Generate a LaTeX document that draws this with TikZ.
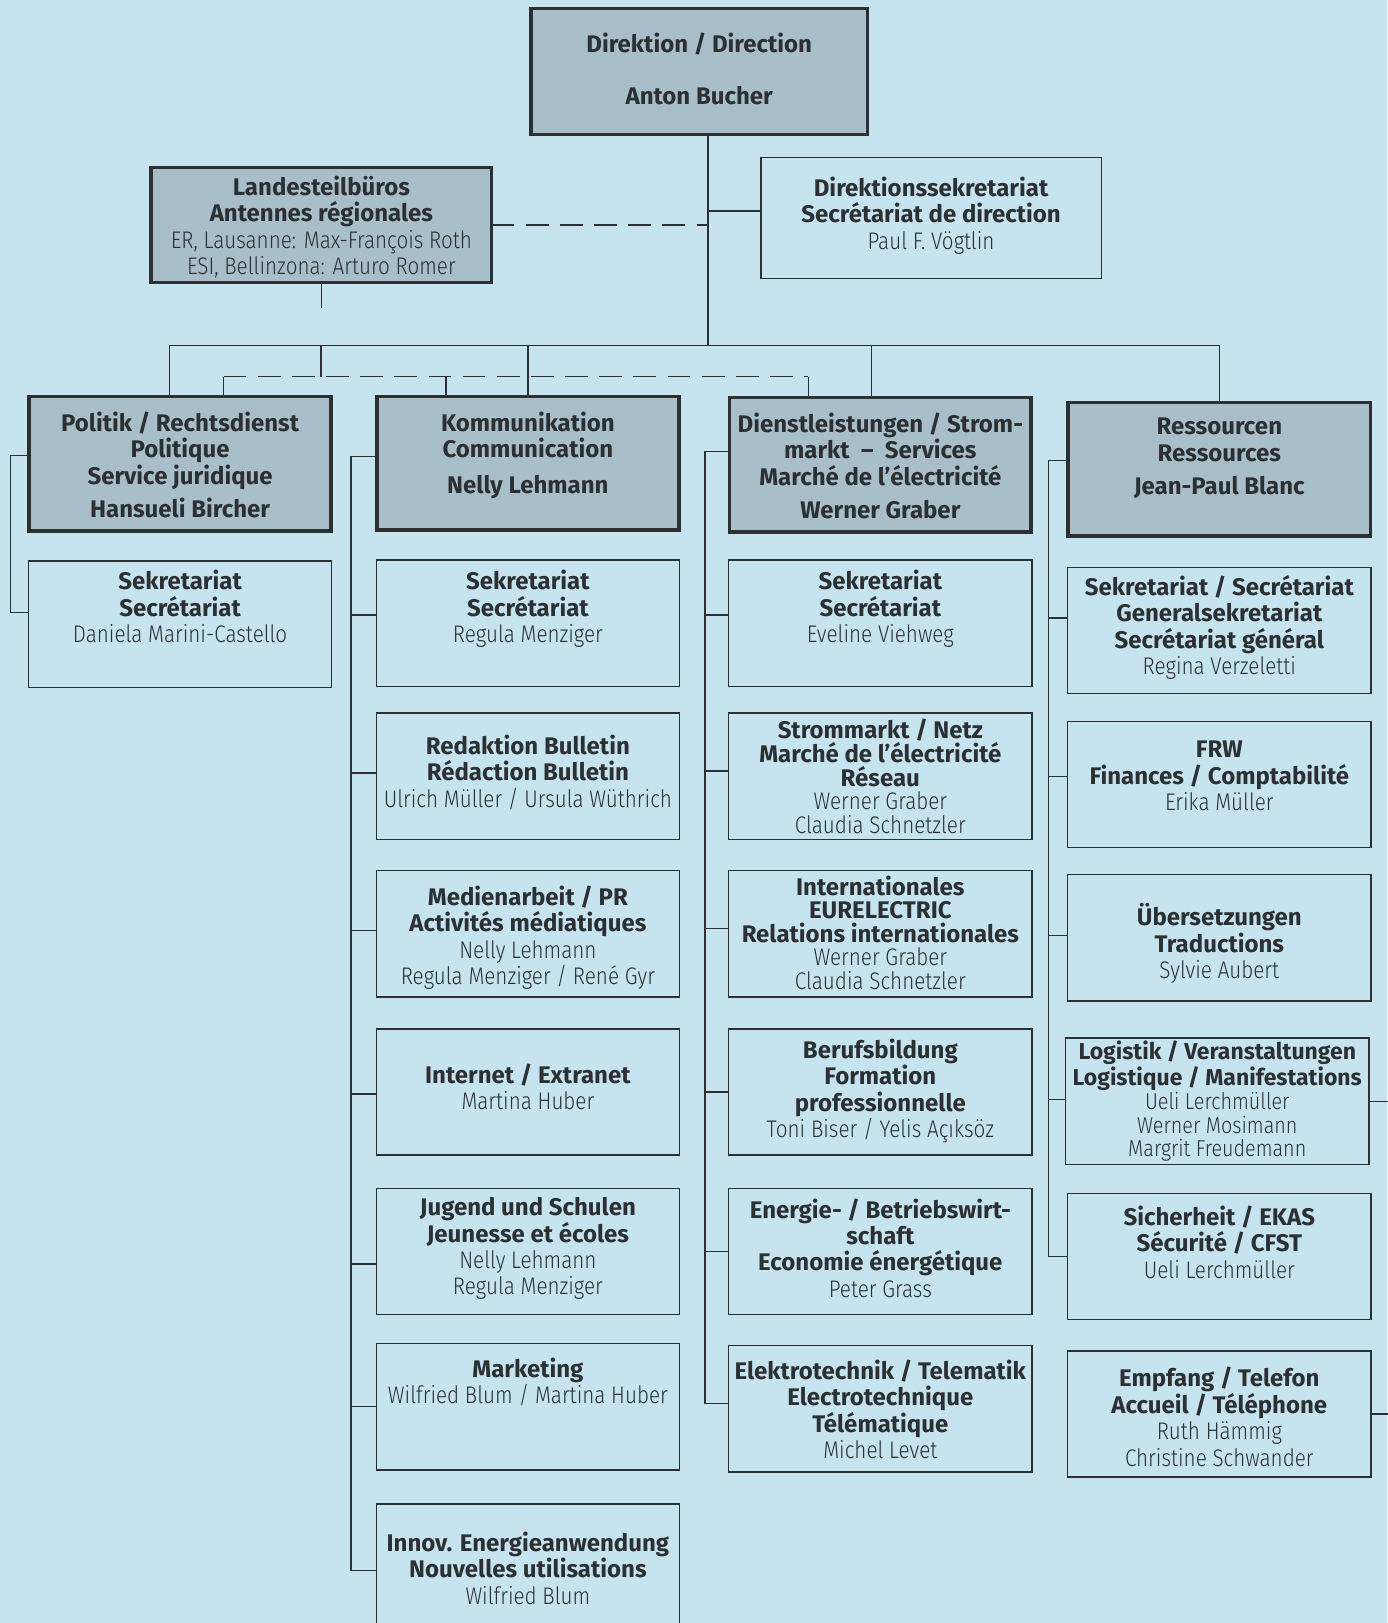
\documentclass[tikz,border=0pt]{standalone}
\usepackage{fontspec}
\setmainfont{Fira Sans}
\newfontfamily\lite{Fira Sans Light}[FakeStretch=0.86]
\newcommand\who[1]{{\mdseries\lite #1}}
\usetikzlibrary{positioning}
\definecolor{bg}{RGB}{197,228,240}
\definecolor{headfill}{RGB}{168,190,201}
\definecolor{ink}{RGB}{45,48,50}
\begin{document}
\begin{tikzpicture}[x=0.5pt, y=-0.5pt,
  head/.style = {draw=ink, line width=1.7pt, fill=headfill, minimum width=146pt, minimum height=65pt, inner sep=0pt, outer sep=0pt},
  unit/.style = {draw=ink, line width=0.7pt, minimum width=146.5pt, minimum height=61pt, inner sep=0pt, outer sep=0pt},
  txt/.style = {align=center, inner sep=0pt, text=ink, font=\fontsize{11.6}{12.75}\selectfont\bfseries},
  tight/.style = {txt, font=\fontsize{11.6}{11.4}\selectfont\bfseries},
  link/.style = {draw=ink, line width=0.7pt}]
\useasboundingbox (0,0) rectangle (1340,1568);
\fill[bg] (0,0) rectangle (1340,1568);

\node[head, minimum width=162.5pt, minimum height=61pt] (dir) at (675.5,69) {};
\node[head, minimum width=164.5pt, minimum height=55.5pt] (land) at (310.5,217.5) {};
\node[unit, minimum width=164.5pt, minimum height=58.5pt] (dsek) at (899.5,210.5) {};
\node[head] (p0) at (174,448) {};
\node[head, minimum height=64.5pt] (k0) at (510,447.5) {};
\node[head, minimum width=145.5pt] (d0) at (850.5,449) {};
\node[head, minimum height=64.5pt] (r0) at (1178,453.5) {};

\node[unit, below=14.5pt of p0] (p1) {};

\node[unit, below=14.5pt of k0] (k1) {};
\node[unit, below=13pt of k1] (k2) {};
\node[unit, below=15pt of k2] (k3) {};
\node[unit, below=15.5pt of k3] (k4) {};
\node[unit, below=16pt of k4] (k5) {};
\node[unit, below=14pt of k5] (k6) {};
\node[unit, below=16.5pt of k6] (k7) {};

\node[unit, below=13.5pt of d0] (d1) {};
\node[unit, below=13pt of d1] (d2) {};
\node[unit, below=15pt of d2] (d3) {};
\node[unit, below=15.5pt of d3] (d4) {};
\node[unit, below=16pt of d4] (d5) {};
\node[unit, below=15pt of d5] (d6) {};

\node[unit, below=15pt of r0] (r1) {};
\node[unit, below=13.5pt of r1] (r2) {};
\node[unit, below=13pt of r2] (r3) {};
\node[unit, below=18pt of r3, xshift=-1pt] (r4) {};
\node[unit, below=14pt of r4, xshift=1pt] (r5) {};
\node[unit, below=15pt of r5] (r6) {};

\node[txt, below=11.75pt of dir.north] (dirt) {Direktion / Direction\\[12.25pt]Anton Bucher};
\node[txt, below=3.75pt of land.north] (landt) {Landesteilbüros\\Antennes régionales\\\who{ER, Lausanne: Max-François Roth}\\\who{ESI, Bellinzona: Arturo Romer}};
\node[txt, below=9.25pt of dsek.north] (dsekt) {Direktionssekretariat\\Secrétariat de direction\\\who{Paul F. Vögtlin}};
\node[txt, below=7.25pt of p0.north] (p0t) {Politik / Rechtsdienst\\Politique\\Service juridique\\[3.5pt]Hansueli Bircher};
\node[txt, below=7.25pt of k0.north] (k0t) {Kommunikation\\Communication\\[4.5pt]Nelly Lehmann};
\node[txt, below=7.25pt of d0.north] (d0t) {Dienstleistungen / Strom-\\markt~ –~ Services\\Marché de l’électricité\\[3.5pt]Werner Graber};
\node[txt, below=7.25pt of r0.north] (r0t) {Ressourcen\\Ressources\\[3.5pt]Jean-Paul Blanc};

\node[txt, below=4.25pt of p1.north] (p1t) {Sekretariat\\Secrétariat\\\who{Daniela Marini-Castello}};

\node[txt, below=4.75pt of k1.north] (k1t) {Sekretariat\\Secrétariat\\\who{Regula Menziger}};
\node[txt, below=10.25pt of k2.north] (k2t) {Redaktion Bulletin\\Rédaction Bulletin\\\who{Ulrich Müller / Ursula Wüthrich}};
\node[txt, below=7.25pt of k3.north] (k3t) {Medienarbeit / PR\\Activités médiatiques\\\who{Nelly Lehmann}\\\who{Regula Menziger / René Gyr}};
\node[txt, below=16.75pt of k4.north] (k4t) {Internet / Extranet\\\who{Martina Huber}};
\node[txt, below=4.25pt of k5.north] (k5t) {Jugend und Schulen\\Jeunesse et écoles\\\who{Nelly Lehmann}\\\who{Regula Menziger}};
\node[txt, below=6.75pt of k6.north] (k6t) {Marketing\\\who{Wilfried Blum / Martina Huber}};
\node[txt, below=13.25pt of k7.north] (k7t) {Innov. Energieanwendung\\Nouvelles utilisations\\\who{Wilfried Blum}};

\node[txt, below=4.75pt of d1.north] (d1t) {Sekretariat\\Secrétariat\\\who{Eveline Viehweg}};
\node[tight, below=2.75pt of d2.north] (d2t) {Strommarkt / Netz\\Marché de l’électricité\\Réseau\\\who{Werner Graber}\\\who{Claudia Schnetzler}};
\node[tight, below=2.25pt of d3.north] (d3t) {Internationales\\EURELECTRIC\\Relations internationales\\\who{Werner Graber}\\\who{Claudia Schnetzler}};
\node[txt, below=4.75pt of d4.north] (d4t) {Berufsbildung\\Formation\\professionnelle\\\who{Toni Biser / Yelis Açıksöz}};
\node[txt, below=4.75pt of d5.north] (d5t) {Energie- / Betriebswirt-\\schaft\\Economie énergétique\\\who{Peter Grass}};
\node[txt, below=6.75pt of d6.north] (d6t) {Elektrotechnik / Telematik\\Electrotechnique\\Télématique\\\who{Michel Levet}};

\node[txt, below=3.75pt of r1.north] (r1t) {Sekretariat / Secrétariat\\Generalsekretariat\\Secrétariat général\\\who{Regina Verzeletti}};
\node[txt, below=9.25pt of r2.north] (r2t) {FRW\\Finances / Comptabilité\\\who{Erika Müller}};
\node[txt, below=13.75pt of r3.north] (r3t) {Übersetzungen\\Traductions\\\who{Sylvie Aubert}};
\node[tight, font=\fontsize{11.1}{11.4}\selectfont\bfseries, below=1.25pt of r4.north] (r4t) {Logistik / Veranstaltungen\\Logistique / Manifestations\\\who{Ueli Lerchmüller}\\\who{Werner Mosimann}\\\who{Margrit Freudemann}};
\node[txt, below=5.75pt of r5.north] (r5t) {Sicherheit / EKAS\\Sécurité / CFST\\\who{Ueli Lerchmüller}};
\node[txt, below=7.75pt of r6.north] (r6t) {Empfang / Telefon\\Accueil / Téléphone\\\who{Ruth Hämmig}\\\who{Christine Schwander}};

\coordinate (hub) at (684,334);
\coordinate (dj) at (310,364);
\draw[link] (dir.south -| hub) -- (hub);
\draw[link] ([yshift=3.25pt]dsek.west) -- ([yshift=3.25pt]dsek.west -| hub);
\draw[link, dash pattern=on 11pt off 5.5pt] (land.east) -- (land.east -| hub);
\draw[link] ([xshift=-5pt]p0.north) |- (hub) -| (r0.north);
\draw[link] (k0.north) |- (hub);
\draw[link] ([xshift=-4.25pt]d0.north) |- (hub);

\draw[link] (land.south) -- ++(0,25);
\draw[link] (hub -| dj) -- (dj);
\draw[link] ([xshift=21pt]p0.north) -- ++(0,-19) coordinate (dl);
\draw[link] ([xshift=-39.5pt]k0.north) -- ++(0,-19);
\draw[link] ([xshift=-34.75pt]d0.north) -- ++(0,-20) coordinate (dr);
\draw[link, dash pattern=on 11pt off 5.5pt] (dl) -- (dr);

\draw[link] ([yshift=4pt]p0.west) -- ++(-18,0) |- ([yshift=5.5pt]p1.west);

\draw[link] ([yshift=3.25pt]k0.west) -- ++(-25,0) |- ([yshift=-1.5pt]k7.west);
\draw[link] ([yshift=4pt]k1.west) -- ++(-25,0);
\draw[link] ([yshift=1.5pt]k2.west) -- ++(-25,0);
\draw[link] ([yshift=1.5pt]k3.west) -- ++(-25,0);
\draw[link] ([yshift=-1pt]k4.west) -- ++(-25,0);
\draw[link] ([yshift=-6pt]k5.west) -- ++(-25,0);
\draw[link] (k6.west) -- ++(-25,0);

\draw[link] ([yshift=6.5pt]d0.west) -- ++(-24,0) |- ([yshift=2.5pt]d6.west);
\draw[link] ([yshift=4pt]d1.west) -- ++(-24,0);
\draw[link] ([yshift=2.5pt]d2.west) -- ++(-24,0);
\draw[link] ([yshift=2.5pt]d3.west) -- ++(-24,0);
\draw[link] (d4.west) -- ++(-24,0);
\draw[link] (d5.west) -- ++(-24,0);

\draw[link] ([yshift=4.25pt]r0.west) -- ++(-19,0) |- (r5.west);
\draw[link] ([yshift=6pt]r1.west) -- ++(-19,0);
\draw[link] ([yshift=4pt]r2.west) -- ++(-19,0);
\draw[link] ([yshift=1pt]r3.west) -- ++(-19,0);
\draw[link] ([yshift=1pt]r4.west) -- ++(-17,0);
\draw[link] (r4.east) -- ++(22,0);
\draw[link] (r6.east) -- ++(20,0);
\end{tikzpicture}
\end{document}
